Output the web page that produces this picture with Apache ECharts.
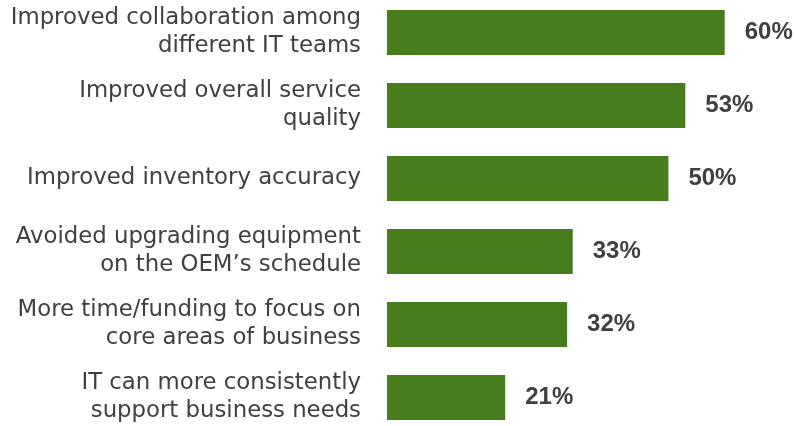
<!DOCTYPE html>
<html>
<head>
<meta charset="utf-8">
<script src="https://cdn.jsdelivr.net/npm/echarts@6/dist/echarts.min.js"></script>
<style>
  html, body { margin: 0; padding: 0; background: #fff; overflow: hidden; }
  #chart { position: absolute; left: 0; top: -4px; width: 795px; height: 440px; }
</style>
</head>
<body>
<div id="chart"></div>
<script>
// Benefits reported, top to bottom
const categories = [
  'Improved collaboration among\ndifferent IT teams',
  'Improved overall service\nquality',
  'Improved inventory accuracy',
  'Avoided upgrading equipment\non the OEM\u2019s schedule',
  'More time/funding to focus on\ncore areas of business',
  'IT can more consistently\nsupport business needs'
];
const shares = [60, 53, 50, 33, 32, 21];

const chart = echarts.init(document.getElementById('chart'));
chart.setOption({
  animation: false,
  grid: { left: 387, right: 14, top: 0, height: 438, containLabel: false },
  xAxis: {
    type: 'value', min: 0, max: 70, show: false
  },
  yAxis: {
    type: 'category',
    inverse: true,
    data: categories,
    axisLine: { show: false },
    axisTick: { show: false },
    axisLabel: {
      margin: 26,
      color: '#404040',
      fontFamily: 'DejaVu Sans, sans-serif',
      fontSize: 22.8,
      lineHeight: 28,
      align: 'right'
    }
  },
  series: [{
    type: 'bar',
    data: shares,
    barWidth: 45,
    itemStyle: { color: '#477d1c' },
    label: {
      show: true,
      position: 'right',
      distance: 20,
      formatter: '{c}%',
      color: '#404040',
      fontFamily: 'Liberation Sans, Arial, sans-serif',
      fontWeight: 'bold',
      fontSize: 24
    }
  }]
});
</script>
</body>
</html>
